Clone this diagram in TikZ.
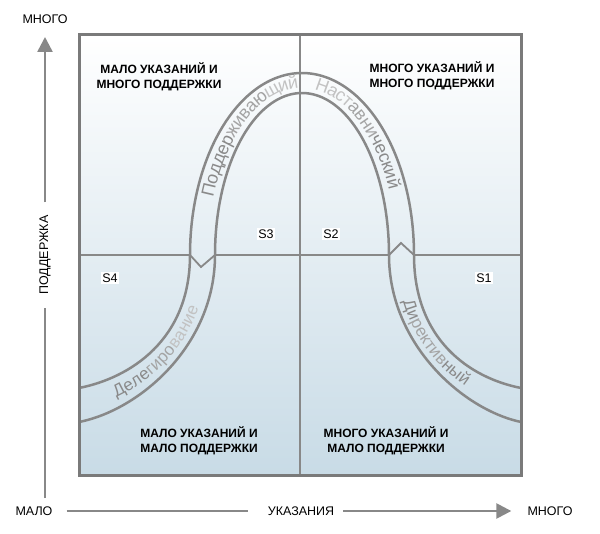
\documentclass[tikz,border=0pt]{standalone}
\usepackage{fontspec}
\setmainfont{Liberation Sans}
\usetikzlibrary{arrows.meta,decorations.text}
\definecolor{linegray}{HTML}{888888}
\definecolor{framegray}{HTML}{7A7A7A}
\definecolor{boxblue}{HTML}{C8DBE6}
\definecolor{bandA}{HTML}{8A8A8A}
\definecolor{bandB}{HTML}{A4A4A4}
\definecolor{bandC}{HTML}{C2C2C2}
\newcommand{\bandfont}{\fontsize{18}{18}\selectfont}
\newcommand{\lowbandfont}{\fontsize{17}{17}\selectfont}

\begin{document}
\begin{tikzpicture}[x=1pt,y=-1pt,
	axis/.style={draw=linegray,line width=2.5pt},
	curve/.style={draw=linegray,line width=2.5pt},
	mid/.style={draw=linegray,line width=1.8pt},
	quad/.style={font=\bfseries\fontsize{12}{15}\selectfont,align=center},
	axlabel/.style={font=\fontsize{12.5}{14}\selectfont,inner sep=0pt},
	sitlabel/.style={fill=white,inner sep=1.5pt,font=\fontsize{12.5}{14}\selectfont}]
	\useasboundingbox (0,0) rectangle (600,534);
	% field
	\shade[top color=white,bottom color=boxblue] (79,35) rectangle (521,476);
	\draw[mid] (300,35) -- (300,476);
	\draw[mid] (79,255) -- (190,255) -- (201,267) -- (215,255) -- (389,255) -- (401,243) -- (414,255) -- (521,255);
	% the two curves
	\draw[curve] (79,388) .. controls (130,378) and (190,340) .. (190,255)
		-- plot[smooth,samples=60,domain=180:0] ({302+112*cos(\x)},{255-182*sin(\x)})
		.. controls (414,340) and (470,378) .. (521,388);
	\draw[curve] (79,422) .. controls (140,410) and (215,345) .. (215,255)
		-- plot[smooth,samples=60,domain=180:0] ({302+87*cos(\x)},{255-162*sin(\x)})
		.. controls (389,345) and (464,410) .. (521,422);
	% band texts
	\path[decorate,decoration={text along path,raise=-5pt,text align={right,right indent=4pt},
		text={|\bandfont\color{bandA}|Поддер|+\color{bandB}|живаю|+\color{bandC}|щий}}]
		(202.5,255) .. controls (202.5,160) and (247,83) .. (302,83);
	\path[decorate,decoration={text along path,raise=-5pt,text align={left,left indent=14pt},
		text={|\bandfont\color{bandC}|Наст|+\color{bandB}|авни|+\color{bandA}|ческий}}]
		(302,83) .. controls (357,83) and (401.5,160) .. (401.5,255);
	\path[decorate,decoration={text along path,raise=-5pt,text align={left,left indent=37pt},
		text={|\lowbandfont\color{bandA}|Деле|+\color{bandB}|гиро|+\color{bandC}|вание}}]
		(79,405) .. controls (135,394) and (202.5,342.5) .. (202.5,255);
	\path[decorate,decoration={text along path,raise=-5pt,text align={left,left indent=45pt},
		text={|\lowbandfont\color{bandA}|Ди|+\color{bandB}|ректив|+\color{bandA}|ный}}]
		(401.5,255) .. controls (401.5,342.5) and (467,394) .. (521,405);
	\draw[framegray,line width=3pt] (79,35) rectangle (521,476);
	% quadrants
	\node[quad] (q3) at (159,77) {МАЛО УКАЗАНИЙ И\\МНОГО ПОДДЕРЖКИ};
	\node[quad] (q2) at (432,76) {МНОГО УКАЗАНИЙ И\\МНОГО ПОДДЕРЖКИ};
	\node[quad] (q4) at (199,441) {МАЛО УКАЗАНИЙ И\\МАЛО ПОДДЕРЖКИ};
	\node[quad] (q1) at (386,441) {МНОГО УКАЗАНИЙ И\\МАЛО ПОДДЕРЖКИ};
	\node[sitlabel] (s3) at (266,234) {S3};
	\node[sitlabel] (s2) at (331,234) {S2};
	\node[sitlabel] (s4) at (110,278) {S4};
	\node[sitlabel] (s1) at (484,278) {S1};
	% axes
	\node[axlabel] (suptop) at (45,19) {МНОГО};
	\node[axlabel,rotate=90] (support) at (45,255) {ПОДДЕРЖКА};
	\coordinate (vbase) at (45,498);
	\coordinate (vtip) at (45,37);
	\draw[axis,shorten >=13pt] (vbase) -- (support.west);
	\draw[axis,shorten <=13pt,-{Triangle[length=15pt,width=15pt]}] (support.east) -- (vtip);
	\node[axlabel] (few) at (34,511) {МАЛО};
	\node[axlabel] (guide) at (301,511) {УКАЗАНИЯ};
	\node[axlabel] (many) at (550,511) {МНОГО};
	\draw[axis,shorten <=14pt,shorten >=20pt] (few.east) -- (guide.west);
	\draw[axis,shorten <=9pt,shorten >=16pt,-{Triangle[length=15pt,width=15pt]}] (guide.east) -- (many.west);
\end{tikzpicture}
\end{document}
